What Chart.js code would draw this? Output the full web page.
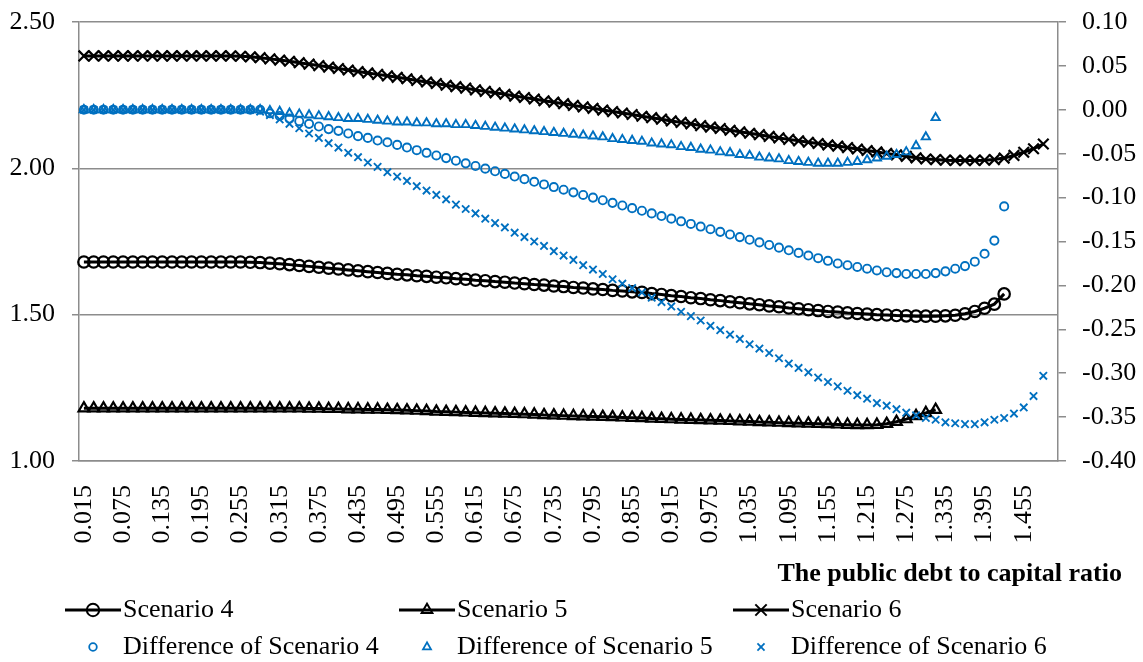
<!DOCTYPE html>
<html><head><meta charset="utf-8">
<script src="https://cdn.jsdelivr.net/npm/chart.js@4"></script>
<style>
html,body{margin:0;padding:0;background:#fff;}
#wrap{position:relative;width:1143px;height:662px;overflow:hidden;}
#c{position:absolute;left:0;top:0;}
.lgt{position:absolute;font-family:'Liberation Serif','Times New Roman',serif;font-size:26px;line-height:30px;color:#000;white-space:nowrap;}
.lgs{position:absolute;}
</style></head><body>
<div id="wrap"><canvas id="c" width="1143" height="662" style="width:1143px;height:662px"></canvas><div id="legend"></div></div>
<script>
const categories = ['0.015','0.03','0.045','0.06','0.075','0.09','0.105','0.12','0.135','0.15','0.165','0.18','0.195','0.21','0.225','0.24','0.255','0.27','0.285','0.3','0.315','0.33','0.345','0.36','0.375','0.39','0.405','0.42','0.435','0.45','0.465','0.48','0.495','0.51','0.525','0.54','0.555','0.57','0.585','0.6','0.615','0.63','0.645','0.66','0.675','0.69','0.705','0.72','0.735','0.75','0.765','0.78','0.795','0.81','0.825','0.84','0.855','0.87','0.885','0.9','0.915','0.93','0.945','0.96','0.975','0.99','1.005','1.02','1.035','1.05','1.065','1.08','1.095','1.11','1.125','1.14','1.155','1.17','1.185','1.2','1.215','1.23','1.245','1.26','1.275','1.29','1.305','1.32','1.335','1.35','1.365','1.38','1.395','1.41','1.425','1.44','1.455','1.47','1.485','1.5'];

const scenario4 = [1.680,1.680,1.680,1.680,1.680,1.680,1.680,1.680,1.680,1.680,1.680,1.680,1.680,1.680,1.680,1.680,1.680,
1.679,1.678,1.676,1.674,1.671,1.668,1.665,1.662,1.659,1.656,1.653,1.650,1.647,1.644,
1.641,1.638,1.636,1.633,1.631,1.628,1.626,1.623,1.621,1.618,1.616,1.613,1.611,1.608,1.606,1.603,1.601,1.598,1.596,1.593,1.591,1.588,1.586,1.583,1.581,1.578,1.576,
1.572,1.569,1.565,1.562,1.558,1.555,1.551,1.548,1.544,1.541,1.537,1.534,1.530,1.527,
1.523,1.520,1.517,1.514,1.511,1.509,1.506,1.504,1.502,1.500,1.499,1.497,1.496,1.495,1.495,1.495,1.496,1.498,1.503,1.511,1.522,1.536,1.571];

const scenario5 = [1.180,1.180,1.180,1.180,1.180,1.180,1.180,1.180,1.180,1.180,1.180,1.180,1.180,1.180,1.180,1.180,1.180,1.180,1.180,1.180,1.180,1.180,1.180,
1.179,1.179,1.178,1.178,1.177,1.177,1.176,1.176,
1.175,1.174,1.173,1.172,1.171,1.169,1.168,1.167,1.166,1.165,1.164,1.163,1.162,1.161,1.160,1.159,1.157,1.156,1.155,1.154,1.153,1.152,1.151,1.150,1.149,1.148,1.147,1.145,1.144,1.143,1.142,1.141,1.140,1.139,1.138,1.137,1.136,1.135,1.133,1.132,1.131,
1.130,1.129,1.128,1.127,1.126,1.125,1.124,1.123,1.123,1.124,1.127,1.134,1.143,1.154,1.164,1.175];

const scenario6 = [2.384,2.384,2.384,2.384,2.384,2.384,2.384,2.384,2.384,2.384,2.384,2.384,2.384,2.384,2.384,2.384,
2.383,2.381,2.378,2.374,2.370,2.366,2.361,2.356,2.351,2.346,2.341,2.336,2.331,2.326,2.321,2.316,2.311,
2.306,2.300,2.295,2.290,2.284,2.279,2.274,2.268,2.263,2.258,2.253,2.247,2.242,2.237,2.231,2.226,2.221,2.215,2.210,2.205,2.199,2.194,2.189,2.184,2.178,2.173,2.168,2.162,2.157,2.152,2.146,2.141,2.136,2.130,2.125,2.120,2.115,2.109,2.104,2.099,
2.094,2.089,2.085,2.080,2.076,2.071,2.066,2.061,2.056,2.051,2.046,2.041,2.036,2.032,2.030,2.028,2.027,2.027,2.027,2.028,2.030,2.035,2.044,2.055,2.067,2.083];

const diff4 = [0,0,0,0,0,0,0,0,0,0,0,0,0,0,0,0,0,0,0,
-0.004,-0.007,-0.010,-0.013,-0.016,-0.019,-0.022,-0.024,-0.027,-0.030,-0.032,-0.035,-0.037,-0.040,
-0.043,-0.046,-0.049,-0.052,-0.055,-0.058,-0.061,-0.064,-0.067,-0.070,-0.073,-0.076,-0.079,-0.082,-0.085,-0.088,-0.091,-0.094,-0.097,-0.100,-0.103,-0.106,-0.109,-0.112,-0.115,-0.118,-0.121,-0.124,-0.127,-0.130,-0.133,-0.136,-0.139,-0.142,-0.145,-0.148,-0.151,-0.154,
-0.157,-0.160,-0.163,-0.166,-0.169,-0.172,-0.175,-0.177,-0.179,-0.181,-0.183,-0.185,-0.186,-0.187,-0.187,-0.187,-0.186,-0.184,-0.181,-0.178,-0.173,-0.164,-0.149,-0.110];

const diff5 = [0,0,0,0,0,0,0,0,0,0,0,0,0,0,0,0,0,0,0,
-0.001,-0.002,-0.004,-0.005,-0.006,-0.007,-0.008,-0.009,-0.010,-0.010,-0.011,-0.012,-0.013,
-0.014,-0.014,-0.015,-0.015,-0.016,-0.016,-0.017,-0.017,-0.018,-0.019,-0.020,-0.021,-0.022,-0.023,-0.024,-0.025,-0.026,-0.027,-0.028,-0.029,-0.030,-0.031,-0.033,-0.034,-0.035,-0.036,-0.038,-0.039,-0.040,-0.042,-0.043,-0.045,-0.046,-0.048,-0.049,-0.051,-0.052,-0.054,-0.055,-0.056,-0.058,-0.059,-0.060,-0.061,-0.061,-0.061,-0.060,-0.059,-0.057,-0.055,-0.053,-0.051,-0.048,-0.041,-0.031,-0.009];

const diff6 = [0,0,0,0,0,0,0,0,0,0,0,0,0,0,0,0,0,0,
-0.002,-0.006,-0.011,-0.016,-0.021,-0.027,-0.032,-0.038,-0.043,-0.049,-0.054,-0.060,-0.065,-0.071,-0.076,
-0.081,-0.087,-0.092,-0.097,-0.102,-0.108,-0.113,-0.118,-0.124,-0.129,-0.134,-0.140,-0.145,-0.150,-0.155,-0.161,-0.166,-0.171,-0.177,-0.182,-0.187,-0.193,-0.198,-0.203,-0.208,-0.214,-0.219,-0.224,-0.230,-0.235,-0.240,-0.246,-0.251,-0.256,-0.261,-0.267,-0.272,
-0.277,-0.283,-0.289,-0.294,-0.299,-0.305,-0.310,-0.315,-0.320,-0.325,-0.329,-0.334,-0.337,-0.341,-0.345,-0.348,-0.351,-0.353,-0.356,-0.357,-0.358,-0.358,-0.356,-0.353,-0.351,-0.346,-0.339,-0.326,-0.303];

const leftTicks = [1.00, 1.50, 2.00, 2.50];
const rightTicks = [-0.40, -0.35, -0.30, -0.25, -0.20, -0.15, -0.10, -0.05, 0.00, 0.05, 0.10];
const seriesNames = ['Scenario 4','Scenario 5','Scenario 6','Difference of Scenario 4','Difference of Scenario 5','Difference of Scenario 6'];
const xTitle = 'The public debt to capital ratio';

const FONT = "'Liberation Serif','Times New Roman',serif";
const GRAY = '#8c8c8c';
const BLUE = '#0070C0';
Chart.defaults.font.family = FONT;
Chart.defaults.font.size = 26;
Chart.defaults.color = '#000';

function fmt(v){ if (Math.abs(v) < 1e-9) v = 0; return v.toFixed(2); }

function blackLine(label, data, style, r){
  return { label, data, yAxisID:'y', borderColor:'#000', borderWidth:3, tension:0, fill:false,
    pointStyle:style, pointRadius:r, pointBorderColor:'#000', pointBackgroundColor:'rgba(0,0,0,0)', pointBorderWidth:2.2, order:1 };
}
function blueDots(label, data, style, r){
  return { label, data, yAxisID:'y1', showLine:false, borderColor:BLUE, backgroundColor:'rgba(0,0,0,0)',
    pointStyle:style, pointRadius:r, pointBorderColor:BLUE, pointBackgroundColor:'rgba(0,0,0,0)', pointBorderWidth:1.9, order:0 };
}

const shiftTitle = {
  id:'shiftTitle',
  afterLayout(chart){ const t = chart.titleBlock; if (t) { t.left -= 16; t.right -= 16; } }
};

new Chart(document.getElementById('c'), {
  type:'line',
  data:{ labels:categories, datasets:[
    blackLine(seriesNames[0], scenario4, 'circle', 5.7),
    blackLine(seriesNames[1], scenario5, 'triangle', 6.2),
    blackLine(seriesNames[2], scenario6, 'crossRot', 7.5),
    blueDots(seriesNames[3], diff4, 'circle', 4.1),
    blueDots(seriesNames[4], diff5, 'triangle', 4.8),
    blueDots(seriesNames[5], diff6, 'crossRot', 5.2)
  ]},
  plugins:[shiftTitle],
  options:{
    responsive:false, animation:false, devicePixelRatio:1,
    layout:{ padding:{ left:8, right:5, top:22, bottom:72.4 } },
    plugins:{
      legend:{ display:false },
      tooltip:{ enabled:false },
      title:{ display:true, text:xTitle, position:'bottom', align:'end', color:'#000',
        font:{ family:FONT, size:26, weight:'bold' }, padding:{ top:7.4, bottom:0 } }
    },
    scales:{
      x:{ type:'category', offset:true,
        grid:{ display:false },
        border:{ display:true, color:GRAY, width:1.5 },
        ticks:{ autoSkip:false, maxRotation:90, minRotation:90, padding:16, color:'#000',
          callback:(v,i)=> i % 4 === 0 ? categories[i] : '' },
        afterFit:(s)=>{ s.height = 90; s.paddingLeft = 0; s.paddingRight = 0; } },
      y:{ position:'left', min:leftTicks[0], max:leftTicks[leftTicks.length-1],
        afterBuildTicks:(s)=>{ s.ticks = leftTicks.map(v=>({value:v})); },
        ticks:{ padding:17, color:'#000', callback:(v)=>fmt(v) },
        grid:{ color:GRAY, lineWidth:1.5, tickLength:7 },
        border:{ display:true, color:GRAY, width:1.5 },
        afterFit:(s)=>{ s.width = 71; s.paddingTop = 0; s.paddingBottom = 0; } },
      y1:{ position:'right', min:rightTicks[0], max:rightTicks[rightTicks.length-1],
        afterBuildTicks:(s)=>{ s.ticks = rightTicks.map(v=>({value:v})); },
        ticks:{ padding:16, color:'#000', callback:(v)=>fmt(v) },
        grid:{ drawOnChartArea:false, color:GRAY, lineWidth:1.5, tickLength:8 },
        border:{ display:true, color:GRAY, width:1.5 },
        afterFit:(s)=>{ s.width = 80; s.paddingTop = 0; s.paddingBottom = 0; } }
    }
  }
});

// HTML legend
const legendPos = [
  {x:64, y:610}, {x:398, y:610}, {x:732, y:610},
  {x:64, y:647}, {x:398, y:647}, {x:732, y:647}
];
function markerSvg(kind, color, r, sw){
  const cx = 29, cy = 12;
  if (kind === 'circle') return `<circle cx="${cx}" cy="${cy}" r="${r}" fill="none" stroke="${color}" stroke-width="${sw}"/>`;
  if (kind === 'triangle') {
    const h = r*0.866;
    return `<polygon points="${cx},${cy-r} ${cx-h},${cy+r/2} ${cx+h},${cy+r/2}" fill="none" stroke="${color}" stroke-width="${sw}"/>`;
  }
  const d = r*0.707;
  return `<line x1="${cx-d}" y1="${cy-d}" x2="${cx+d}" y2="${cy+d}" stroke="${color}" stroke-width="${sw}"/><line x1="${cx-d}" y1="${cy+d}" x2="${cx+d}" y2="${cy-d}" stroke="${color}" stroke-width="${sw}"/>`;
}
const kinds = ['circle','triangle','cross'];
const lg = document.getElementById('legend');
seriesNames.forEach((name, i) => {
  const p = legendPos[i];
  const isLine = i < 3;
  const kind = kinds[i % 3];
  let inner = '';
  if (isLine) {
    inner += `<line x1="1" y1="12" x2="57" y2="12" stroke="#000" stroke-width="3"/>`;
    inner += markerSvg(kind, '#000', kind==='cross'?8:6.2, 2);
  } else {
    inner += markerSvg(kind, BLUE, kind==='cross'?5:(kind==='triangle'?4.6:3.8), 1.8);
  }
  const wrapSvg = `<svg class="lgs" width="58" height="24" style="left:${p.x}px;top:${p.y-12}px">${inner}</svg>`;
  const txt = `<div class="lgt" style="left:${p.x+59}px;top:${p.y-16}px">${name}</div>`;
  lg.insertAdjacentHTML('beforeend', wrapSvg + txt);
});
</script>
</body></html>
